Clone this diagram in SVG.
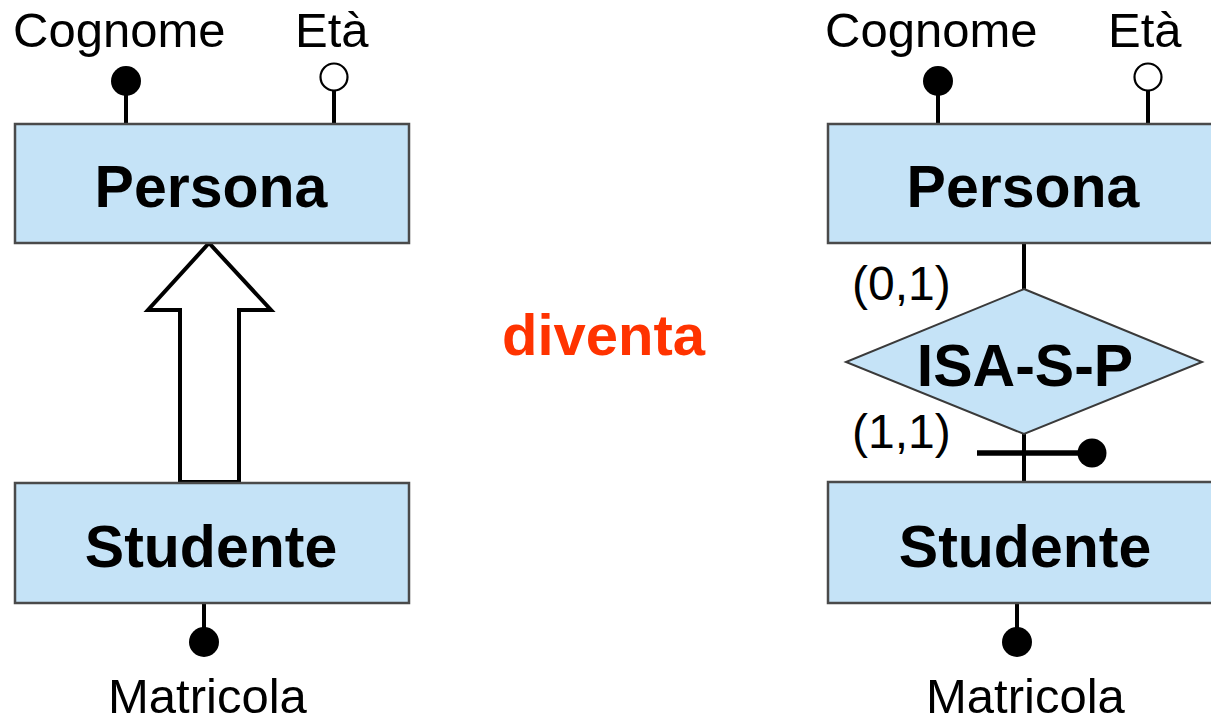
<svg xmlns="http://www.w3.org/2000/svg" width="1211" height="721" viewBox="0 0 1211 721">
<style>
.ent{fill:#c5e3f7;stroke:#4a4a4a;stroke-width:2.5}
.rel{fill:#c5e3f7;stroke:#3a3a3a;stroke-width:2}
.ln{stroke:#000;stroke-width:4;fill:none}
.dot{fill:#000}
.odot{fill:#fff;stroke:#000;stroke-width:2.2}
.lbl{font-family:"Liberation Sans",Arial,sans-serif;font-size:49px;fill:#000}
.card{font-family:"Liberation Sans",Arial,sans-serif;font-size:48px;fill:#000}
.big{font-family:"Liberation Sans",Arial,sans-serif;font-size:59px;font-weight:bold;fill:#000;text-anchor:middle}
.red{font-family:"Liberation Sans",Arial,sans-serif;font-size:58px;font-weight:bold;fill:#ff3300}
</style>
<rect width="1211" height="721" fill="#fff"/>
<g id="connectors">
<line class="ln" x1="126" y1="90" x2="126" y2="124"/>
<line class="ln" x1="334" y1="88" x2="334" y2="124"/>
<line class="ln" x1="938" y1="90" x2="938" y2="124"/>
<line class="ln" x1="1148" y1="88" x2="1148" y2="124"/>
<line class="ln" x1="204" y1="603" x2="204" y2="635"/>
<line class="ln" x1="1017" y1="603" x2="1017" y2="635"/>
<line class="ln" x1="1024" y1="243" x2="1024" y2="290"/>
<line class="ln" x1="1024" y1="434" x2="1024" y2="483"/>
<line x1="977" y1="453" x2="1085" y2="453" stroke="#000" stroke-width="5.5"/>
<circle class="dot" cx="1092" cy="453" r="14.5"/>
<path d="M209,243 L148,310 L180,310 L180,482 L239,482 L239,310 L271,310 Z" fill="#fff" stroke="#000" stroke-width="4" stroke-linejoin="miter"/>
</g>
<g id="attr-cognome-left">
<circle class="dot" cx="126" cy="81" r="15"/>
<text class="lbl" x="13" y="47">Cognome</text>
</g>
<g id="attr-eta-left">
<circle class="odot" cx="334" cy="77" r="13.5"/>
<text class="lbl" x="295" y="47">Età</text>
</g>
<g id="persona-left">
<rect class="ent" x="15" y="124" width="394" height="119"/>
<text class="big" x="211" y="207">Persona</text>
</g>
<g id="studente-left">
<rect class="ent" x="15" y="483" width="394" height="120"/>
<text class="big" x="211" y="567">Studente</text>
</g>
<g id="attr-matricola-left">
<circle class="dot" cx="204" cy="642" r="15"/>
<text class="lbl" x="108" y="713">Matricola</text>
</g>
<g id="diventa">
<text class="red" x="502" y="355">diventa</text>
</g>
<g id="attr-cognome-right">
<circle class="dot" cx="938" cy="81" r="15"/>
<text class="lbl" x="825" y="47">Cognome</text>
</g>
<g id="attr-eta-right">
<circle class="odot" cx="1148" cy="77" r="13.5"/>
<text class="lbl" x="1108" y="47">Età</text>
</g>
<g id="persona-right">
<rect class="ent" x="828" y="124" width="394" height="119"/>
<text class="big" x="1023" y="207">Persona</text>
</g>
<g id="isa-s-p">
<polygon class="rel" points="1024,289 1202,362 1024,434 846,362"/>
<text class="big" x="1025" y="386">ISA-S-P</text>
</g>
<g id="card-labels">
<text class="card" x="852" y="300">(0,1)</text>
<text class="card" x="852" y="448">(1,1)</text>
</g>
<g id="studente-right">
<rect class="ent" x="828" y="482" width="394" height="121"/>
<text class="big" x="1025" y="567">Studente</text>
</g>
<g id="attr-matricola-right">
<circle class="dot" cx="1017" cy="642" r="15"/>
<text class="lbl" x="926" y="713">Matricola</text>
</g>
</svg>
